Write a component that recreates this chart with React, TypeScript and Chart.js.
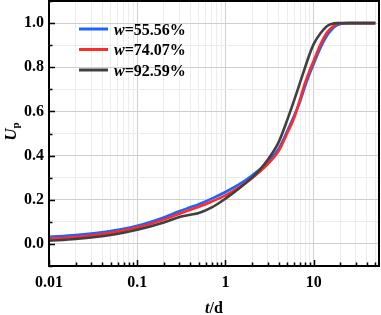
import React, { useEffect, useRef } from "react";
import { Chart, registerables } from "chart.js";

Chart.register(...registerables);

// ---- data ----
const tDays = [0.01, 0.02, 0.05, 0.1, 0.2, 0.3, 0.4, 0.5, 0.7, 1, 1.5, 2, 2.5, 3, 4, 5, 6, 7, 8, 9, 10, 12, 14, 16, 18, 20, 25, 50];
const upW5556 = [0.032, 0.040, 0.058, 0.082, 0.120, 0.148, 0.166, 0.180, 0.205, 0.235, 0.275, 0.310, 0.340, 0.370, 0.430, 0.510, 0.580, 0.645, 0.715, 0.770, 0.815, 0.890, 0.940, 0.970, 0.988, 0.996, 1.0, 1.0];
const upW7407 = [0.023, 0.031, 0.050, 0.074, 0.110, 0.137, 0.155, 0.168, 0.192, 0.220, 0.262, 0.298, 0.330, 0.360, 0.420, 0.500, 0.570, 0.655, 0.730, 0.785, 0.830, 0.905, 0.955, 0.980, 0.993, 0.999, 1.0, 1.0];
const upW9259 = [0.014, 0.022, 0.040, 0.064, 0.097, 0.122, 0.132, 0.140, 0.165, 0.205, 0.258, 0.300, 0.340, 0.380, 0.460, 0.560, 0.650, 0.730, 0.800, 0.860, 0.905, 0.955, 0.985, 0.996, 1.0, 1.0, 1.0, 1.0];
const seriesValues = ["55.56%", "74.07%", "92.59%"];
const seriesColors = ["#1f62ff", "#ff2b2b", "#404040"];
const xMajorTicks = [0.01, 0.1, 1, 10];
const xTickLabels = ["0.01", "0.1", "1", "10"];
const yMajorTicks = [0, 0.2, 0.4, 0.6, 0.8, 1.0];
const yTickLabels = ["0.0", "0.2", "0.4", "0.6", "0.8", "1.0"];
const xMin = 0.01, xMax = 55, yMin = -0.1, yMax = 1.1;

const FONT = "'Liberation Serif', 'Times New Roman', serif";

function buildXTicks() {
  const out: { value: number; major: boolean }[] = [];
  for (let d = 0; d < xMajorTicks.length; d++) {
    const base = xMajorTicks[d];
    for (let m = 1; m <= 9; m++) {
      const v = +(base * m).toPrecision(6);
      if (v >= xMin - 1e-12 && v <= xMax + 1e-9) out.push({ value: v, major: m === 1 });
    }
  }
  return out;
}
function buildYTicks() {
  const out: { value: number; major: boolean }[] = [];
  for (let i = -1; i <= 11; i++) {
    const v = +(i / 10).toFixed(1);
    out.push({ value: v, major: yMajorTicks.some((m) => Math.abs(m - v) < 1e-9) });
  }
  return out;
}
const isXMajor = (v: number) => xMajorTicks.some((m) => Math.abs(m - v) / m < 1e-6);
const isYMajor = (v: number) => yMajorTicks.some((m) => Math.abs(m - v) < 1e-6);

const framePlugin = {
  id: "frame",
  afterDraw(chart: any) {
    const { ctx, chartArea: a, scales } = chart;
    const xs = scales.x, ys = scales.y;
    ctx.save();
    ctx.strokeStyle = "#000";
    ctx.lineWidth = 1.5;
    // inward ticks
    ctx.beginPath();
    xs.ticks.forEach((tk: any) => {
      const px = Math.round(xs.getPixelForValue(tk.value)) + 0.5;
      const len = isXMajor(tk.value) ? 6 : 3.5;
      ctx.moveTo(px, a.bottom);
      ctx.lineTo(px, a.bottom - len);
    });
    ys.ticks.forEach((tk: any) => {
      const py = Math.round(ys.getPixelForValue(tk.value)) + 0.5;
      const len = isYMajor(tk.value) ? 6 : 3.5;
      ctx.moveTo(a.left, py);
      ctx.lineTo(a.left + len, py);
    });
    ctx.stroke();
    // frame
    ctx.lineWidth = 2;
    ctx.strokeRect(a.left, a.top, a.right - a.left, a.bottom - a.top);

    // legend
    const ly = [29, 49.5, 70];
    chart.data.datasets.forEach((ds: any, i: number) => {
      const y = ly[i];
      ctx.strokeStyle = ds.borderColor;
      ctx.lineWidth = 3;
      ctx.beginPath();
      ctx.moveTo(79, y);
      ctx.lineTo(108, y);
      ctx.stroke();
      ctx.fillStyle = "#000";
      ctx.textBaseline = "alphabetic";
      ctx.textAlign = "left";
      ctx.font = `italic bold 16px ${FONT}`;
      ctx.fillText("w", 114, y + 5.5);
      const ww = ctx.measureText("w").width;
      ctx.font = `bold 16px ${FONT}`;
      ctx.fillText("=" + seriesValues[i], 114 + ww, y + 5.5);
    });

    // x title
    ctx.fillStyle = "#000";
    ctx.font = `italic bold 16px ${FONT}`;
    const tw = ctx.measureText("t").width;
    ctx.font = `bold 16px ${FONT}`;
    const dw = ctx.measureText("/d").width;
    const cx = (a.left + a.right) / 2;
    const x0 = cx - (tw + dw) / 2;
    ctx.font = `italic bold 16px ${FONT}`;
    ctx.fillText("t", x0, 313);
    ctx.font = `bold 16px ${FONT}`;
    ctx.fillText("/d", x0 + tw, 313);

    // y title
    ctx.save();
    ctx.translate(16, (a.top + a.bottom) / 2 - 2);
    ctx.rotate(-Math.PI / 2);
    ctx.font = `italic bold 17px ${FONT}`;
    const uw = ctx.measureText("U").width;
    ctx.font = `bold 11px ${FONT}`;
    const pw = ctx.measureText("p").width;
    const sx = -(uw + pw) / 2;
    ctx.font = `italic bold 17px ${FONT}`;
    ctx.fillText("U", sx, 0);
    ctx.font = `bold 11px ${FONT}`;
    ctx.fillText("p", sx + uw, 3);
    ctx.restore();

    ctx.restore();
  },
};

export default function App() {
  const ref = useRef<HTMLCanvasElement | null>(null);
  useEffect(() => {
    if (!ref.current) return;
    const series = [upW5556, upW7407, upW9259];
    const chart = new Chart(ref.current, {
      type: "scatter",
      data: {
        datasets: series.map((vals, i) => ({
          label: "w=" + seriesValues[i],
          data: tDays.map((t, j) => ({ x: t, y: vals[j] })),
          showLine: true,
          borderColor: seriesColors[i],
          backgroundColor: seriesColors[i],
          borderWidth: 2.6,
          pointRadius: 0,
          cubicInterpolationMode: "monotone" as const,
          order: 3 - i,
        })),
      },
      options: {
        responsive: false,
        animation: false,
        layout: { padding: { top: 1, right: 2, left: 0, bottom: 0 } },
        plugins: { legend: { display: false }, tooltip: { enabled: false } },
        scales: {
          x: {
            type: "logarithmic",
            min: xMin,
            max: xMax,
            afterBuildTicks: (s: any) => {
              s.ticks = buildXTicks();
            },
            afterFit: (s: any) => {
              s.height = 49;
              s.paddingLeft = 0;
              s.paddingRight = 0;
            },
            ticks: {
              autoSkip: false,
              maxRotation: 0,
              padding: 7,
              color: "#000",
              font: { family: FONT, size: 16, weight: "bold" },
              callback: (v: any) => {
                const idx = xMajorTicks.findIndex((m) => Math.abs(m - v) / m < 1e-6);
                return idx >= 0 ? xTickLabels[idx] : "";
              },
            },
            grid: {
              drawTicks: false,
              color: (c: any) => (c.tick && isXMajor(c.tick.value) ? "#cfcfcf" : "#ececec"),
              lineWidth: 1,
            },
            border: { display: false },
          },
          y: {
            type: "linear",
            min: yMin,
            max: yMax,
            afterBuildTicks: (s: any) => {
              s.ticks = buildYTicks();
            },
            afterFit: (s: any) => {
              s.width = 49;
              s.paddingTop = 0;
              s.paddingBottom = 0;
            },
            ticks: {
              autoSkip: false,
              padding: 5,
              color: "#000",
              font: { family: FONT, size: 16, weight: "bold" },
              callback: (v: any) => {
                const idx = yMajorTicks.findIndex((m) => Math.abs(m - v) < 1e-6);
                return idx >= 0 ? yTickLabels[idx] : "";
              },
            },
            grid: {
              drawTicks: false,
              color: (c: any) => (c.tick && isYMajor(c.tick.value) ? "#cfcfcf" : "#ececec"),
              lineWidth: 1,
            },
            border: { display: false },
          },
        },
      },
      plugins: [framePlugin],
    });
    return () => chart.destroy();
  }, []);
  return (
    <div style={{ position: "fixed", left: 0, top: 0, width: 381, height: 315, background: "#fff" }}>
      <canvas ref={ref} width={381} height={315} style={{ width: 381, height: 315 }} />
    </div>
  );
}
